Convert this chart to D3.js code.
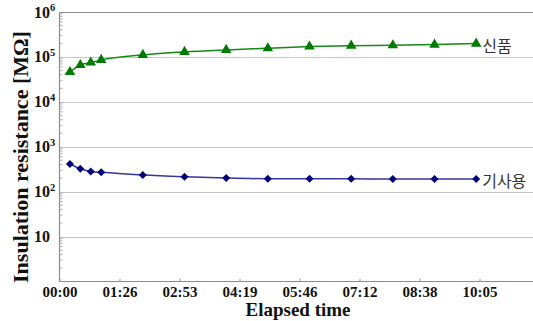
<!DOCTYPE html>
<html>
<head>
<meta charset="utf-8">
<script src="https://cdn.jsdelivr.net/npm/d3@7"></script>
<style>
	body { margin: 0; background: #fff; }
	svg { display: block; }
</style>
</head>
<body>
<div id="chart"></div>
<script>
var width = 533;
var height = 321;

// elapsed time of each reading, minutes
var timeMin = [15, 30, 45, 60, 120, 180, 240, 300, 360, 420, 480, 540, 600];

// insulation resistance, MOhm
var newValues = [46000, 66000, 75000, 86000, 111000, 129000, 143000, 156000, 170000, 178000, 182000, 188000, 198000];
var usedValues = [413, 324, 282, 269, 235, 215, 201, 194, 194, 193, 192, 192, 191];

var seriesNames = ["신품", "기사용"];

var xTickValues = [0, 86.4, 172.8, 259.2, 345.6, 432, 518.4, 604.8];
var xTickLabels = ["00:00", "01:26", "02:53", "04:19", "05:46", "07:12", "08:38", "10:05"];

var yTickValues = [1e6, 1e5, 1e4, 1e3, 1e2, 10];
var yTickExp = ["6", "5", "4", "3", "2", ""];

var margin = { left: 59.5, top: 12, bottom: 281.5 };

var x = d3.scaleLinear()
	.domain([0, 691.2])
	.range([margin.left, margin.left + 480]);

var y = d3.scaleLog()
	.domain([1, 1e6])
	.range([margin.bottom, margin.top]);

var svg = d3.select("#chart")
	.append("svg")
		.attr("width", width)
		.attr("height", height)
	;

// dotted grid at each decade
svg.append("g")
	.selectAll("line")
	.data(yTickValues.filter(d => d < 1e6))
	.enter()
		.append("line")
			.attr("x1", margin.left)
			.attr("x2", width)
			.attr("y1", d => Math.round(y(d)) + 0.5)
			.attr("y2", d => Math.round(y(d)) + 0.5)
			.attr("stroke", "#8a8a8a")
			.attr("stroke-width", 1)
			.attr("stroke-dasharray", "1,1")
	;

// frame: top, left, bottom
svg.append("path")
	.attr("d", "M" + width + "," + (margin.top + 0.5) + "H" + margin.left + "V" + margin.bottom + "H" + width)
	.attr("fill", "none")
	.attr("stroke", "#8c8c8c")
	.attr("stroke-width", 1.2)
	;

// minor log ticks on the left, pointing inward
var minorTicks = [];
for (var p = 0; p < 6; p++) {
	for (var m = 2; m <= 9; m++) minorTicks.push(m * Math.pow(10, p));
	}
svg.append("g")
	.selectAll("line")
	.data(minorTicks)
	.enter()
		.append("line")
			.attr("x1", margin.left)
			.attr("x2", margin.left + 3)
			.attr("y1", d => y(d))
			.attr("y2", d => y(d))
			.attr("stroke", "#999")
			.attr("stroke-width", 0.8)
	;

// x axis
var xAxis = d3.axisBottom(x)
	.tickValues(xTickValues)
	.tickFormat((d, i) => xTickLabels[i])
	.tickSize(-3)
	.tickPadding(5)
	;
var gx = svg.append("g")
	.attr("transform", "translate(0," + margin.bottom + ")")
	.call(xAxis)
	;
gx.select(".domain").remove();
gx.selectAll(".tick line").attr("stroke", "#999");
gx.selectAll(".tick text")
	.attr("fill", "#111")
	.style("font-family", "'Liberation Serif', 'Times New Roman', serif")
	.style("font-weight", "bold")
	.style("font-size", "15px")
	;

// y tick labels 10^n
var yLab = svg.append("g")
	.selectAll("text")
	.data(yTickValues)
	.enter()
		.append("text")
			.attr("x", 34)
			.attr("y", d => y(d) + 5.5)
			.attr("fill", "#111")
			.style("font-family", "'Liberation Serif', 'Times New Roman', serif")
			.style("font-weight", "bold")
			.style("font-size", "16px")
			.text("10")
	;
yLab.append("tspan")
	.attr("dy", -6.5)
	.style("font-size", "10.5px")
	.text((d, i) => yTickExp[i])
	;

// axis titles
svg.append("text")
	.attr("transform", "translate(28,157) rotate(-90)")
	.attr("text-anchor", "middle")
	.attr("fill", "#111")
	.style("font-family", "'Liberation Serif', 'Times New Roman', serif")
	.style("font-weight", "bold")
	.style("font-size", "22px")
	.text("Insulation resistance [MΩ]")
	;

svg.append("text")
	.attr("x", 298)
	.attr("y", 316)
	.attr("text-anchor", "middle")
	.attr("fill", "#111")
	.style("font-family", "'Liberation Serif', 'Times New Roman', serif")
	.style("font-weight", "bold")
	.style("font-size", "19px")
	.text("Elapsed time")
	;

// series
var series = [
	{ name: seriesNames[0], values: newValues, line: "#138a13", fill: "#007a00", symbol: d3.symbolTriangle, size: 48, rot: 0 },
	{ name: seriesNames[1], values: usedValues, line: "#35359e", fill: "#00007a", symbol: d3.symbolSquare, size: 32, rot: 45 }
	];

var line = d3.line()
	.x(d => x(d.t))
	.y(d => y(d.v))
	.curve(d3.curveMonotoneX)
	;

series.forEach(function(s) {
	var pts = timeMin.map((t, i) => ({ t: t, v: s.values[i] }));

	svg.append("path")
		.datum(pts)
		.attr("d", line)
		.attr("fill", "none")
		.attr("stroke", s.line)
		.attr("stroke-width", 1.5)
		;

	svg.append("g")
		.selectAll("path")
		.data(pts)
		.enter()
			.append("path")
				.attr("transform", d => "translate(" + x(d.t) + "," + y(d.v) + ") rotate(" + s.rot + ")")
				.attr("d", d3.symbol().type(s.symbol).size(s.size))
				.attr("fill", s.fill)
		;

	var last = pts[pts.length - 1];
	svg.append("text")
		.attr("x", x(last.t) + 6)
		.attr("y", y(last.v) + 1)
		.attr("dominant-baseline", "central")
		.attr("fill", "#333")
		.style("font-family", "'Noto Sans CJK KR', sans-serif")
		.style("font-weight", 400)
		.style("font-size", "16px")
		.text(s.name)
		;
	});
</script>
</body>
</html>
